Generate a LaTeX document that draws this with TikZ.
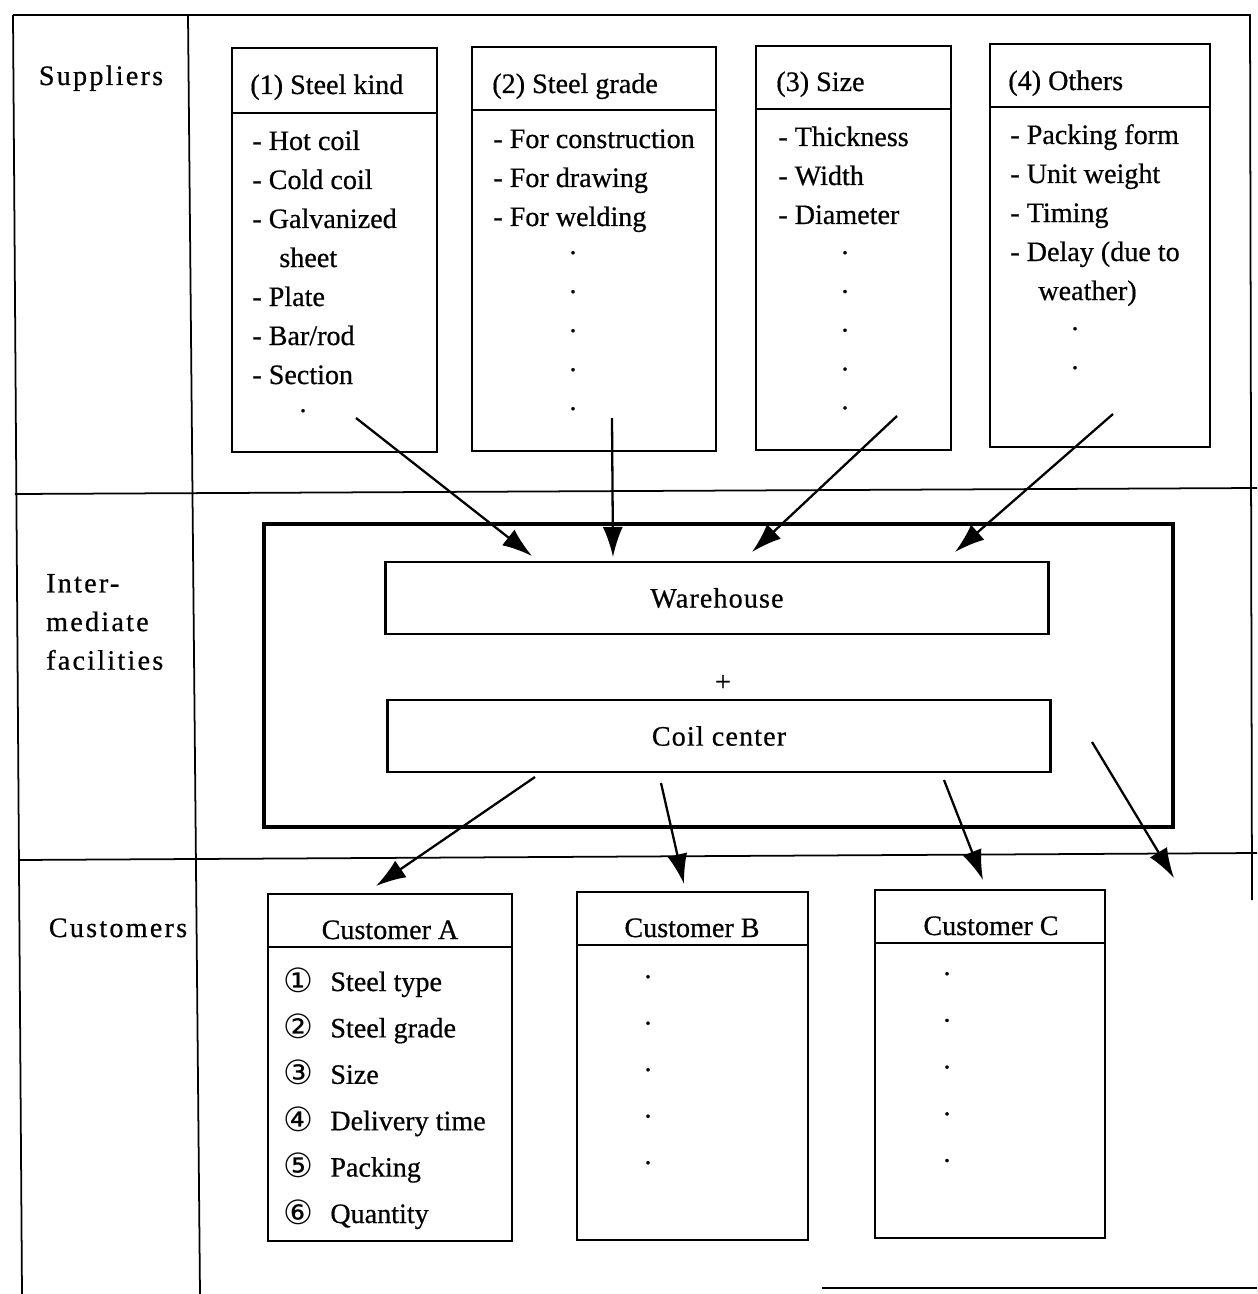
\documentclass[tikz,border=0pt]{standalone}
\usepackage{fontspec}
\setmainfont{Liberation Serif}[FakeBold=0.6]
\newfontfamily\circfont{DejaVu Sans}
\newfontfamily\sidefont[LetterSpace=8,FakeBold=0.6]{Liberation Serif}
\newfontfamily\widefont[LetterSpace=4,FakeBold=0.6]{Liberation Serif}
\usetikzlibrary{arrows.meta}
\newcommand*{\taille}{\fontsize{16}{22}\selectfont}
\tikzset{
	rule/.style ={line width=1pt},
	box/.style ={draw,line width=1.4pt},
	bigbox/.style ={draw,line width=1.8pt},
	head/.style ={anchor=base west,inner sep=0pt},
	item/.style ={anchor=base west,inner sep=0pt},
	point/.style ={anchor=base,inner sep=0pt},
	side/.style ={font=\sidefont\taille},
	flow/.style ={line width=1.3pt,-{Latex[length=0.6cm,width=0.4cm]}}
}

\begin{document}
\begin{tikzpicture}[x=0.02cm,y=-0.02cm,font=\taille]
	\useasboundingbox (0,0) rectangle (1257,1294);
	% frame and rows
	\draw[rule] (13,15) -- (1250,15) -- (1252,900);
	\draw[rule] (13,15) -- (22,1294);
	\draw[rule] (188,15) -- (200,1294);
	\draw[rule] (15,494) -- (1257,488);
	\draw[rule] (18,860) -- (1257,853);
	\draw[rule] (822,1288) -- (1257,1288);
	\node[side,anchor=base] (sup) at (101,85) {Suppliers};
	\node[side,anchor=west,align=left] (mid) at (40,622) {Inter-\\mediate\\facilities};
	\node[side,anchor=base] (cus) at (118,937) {Customers};

	% suppliers
	\draw[box] (232,48) rectangle (437,452) (232,113) -- (437,113);
	\draw[box] (472,47) rectangle (716,451) (472,110) -- (716,110);
	\draw[box] (756,46) rectangle (951,450) (756,109) -- (951,109);
	\draw[box] (990,44) rectangle (1210,447) (990,107) -- (1210,107);
	\node[head] (kindhead) at (250,94) {(1) Steel kind};
	\node[head] (gradehead) at (492,93) {(2) Steel grade};
	\node[head] (sizehead) at (776,91) {(3) Size};
	\node[head] (otherhead) at (1008,90) {(4) Others};
	\foreach \x/\t [count=\i] in {252/- Hot coil,252/- Cold coil,252/- Galvanized,279/sheet,252/- Plate,252/{- Bar/rod},252/- Section}
		\node[item] (kind\i) at (\x,{150+39*(\i-1)}) {\t};
	\node[point] (kinddot) at (303,412) {.};
	\foreach \t [count=\i] in {- For construction,- For drawing,- For welding}
		\node[item] (grade\i) at (493,{148+39*(\i-1)}) {\t};
	\foreach \t [count=\i] in {- Thickness,- Width,- Diameter}
		\node[item] (size\i) at (778,{146+39*(\i-1)}) {\t};
	\foreach \x/\t [count=\i] in {1010/- Packing form,1010/- Unit weight,1010/- Timing,1010/- Delay (due to,1038/weather)}
		\node[item] (other\i) at (\x,{144+39*(\i-1)}) {\t};
	\foreach \i in {0,...,4}{
		\node[point] (gradedot\i) at (573,{254+39*\i}) {.};
		\node[point] (sizedot\i) at (845,{254+38.8*\i}) {.};
	}
	\foreach \i in {0,1}
		\node[point] (otherdot\i) at (1075,{330+39*\i}) {.};

	% intermediate facilities
	\draw[bigbox] (264,524) rectangle (1173,827);
	\node[box,minimum width=13.26cm,minimum height=1.44cm] (wh) at (717,598) {\widefont Warehouse};
	\node (plus) at (723,683) {+};
	\node[box,minimum width=13.26cm,minimum height=1.44cm] (cc) at (719,736) {\widefont Coil center};

	% customers
	\draw[box] (268,894) rectangle (512,1241) (268,947) -- (512,947);
	\draw[box] (577,892) rectangle (808,1240) (577,945) -- (808,945);
	\draw[box] (875,890) rectangle (1105,1238) (875,943) -- (1105,943);
	\node[point] (custA) at (390,939) {Customer A};
	\node[point] (custB) at (692,937) {Customer B};
	\node[point] (custC) at (991,935) {Customer C};
	\foreach \n/\t [count=\i from 0] in {①/Steel type,②/Steel grade,③/Size,④/Delivery time,⑤/Packing,⑥/Quantity}{
		\node[point,font=\circfont\fontsize{19}{22}\selectfont] (num\i) at (298,{992+46.4*\i}) {\n};
		\node[item] (need\i) at (330,{991+46.4*\i}) {\t};
	}
	\foreach \i in {0,...,4}{
		\node[point] (Bdot\i) at (648,{978+46.5*\i}) {.};
		\node[point] (Cdot\i) at (947,{975+46.7*\i}) {.};
	}

	% arrows
	\coordinate (a1) at (356,418); \coordinate (a1e) at (532,556);
	\coordinate (a2) at (612,418); \coordinate (a2e) at (613,557);
	\coordinate (a3) at (897,416); \coordinate (a3e) at (752,552);
	\coordinate (a4) at (1113,414); \coordinate (a4e) at (955,552);
	\coordinate (b1) at (535,777); \coordinate (b1e) at (376,886);
	\coordinate (b2) at (661,783); \coordinate (b2e) at (684,884);
	\coordinate (b3) at (944,780); \coordinate (b3e) at (983,880);
	\coordinate (b4) at (1092,742); \coordinate (b4e) at (1174,878);
	\foreach \p in {a1,a2,a3,a4,b1,b2,b3,b4}
		\draw[flow] (\p) -- (\p e);
\end{tikzpicture}
\end{document}
